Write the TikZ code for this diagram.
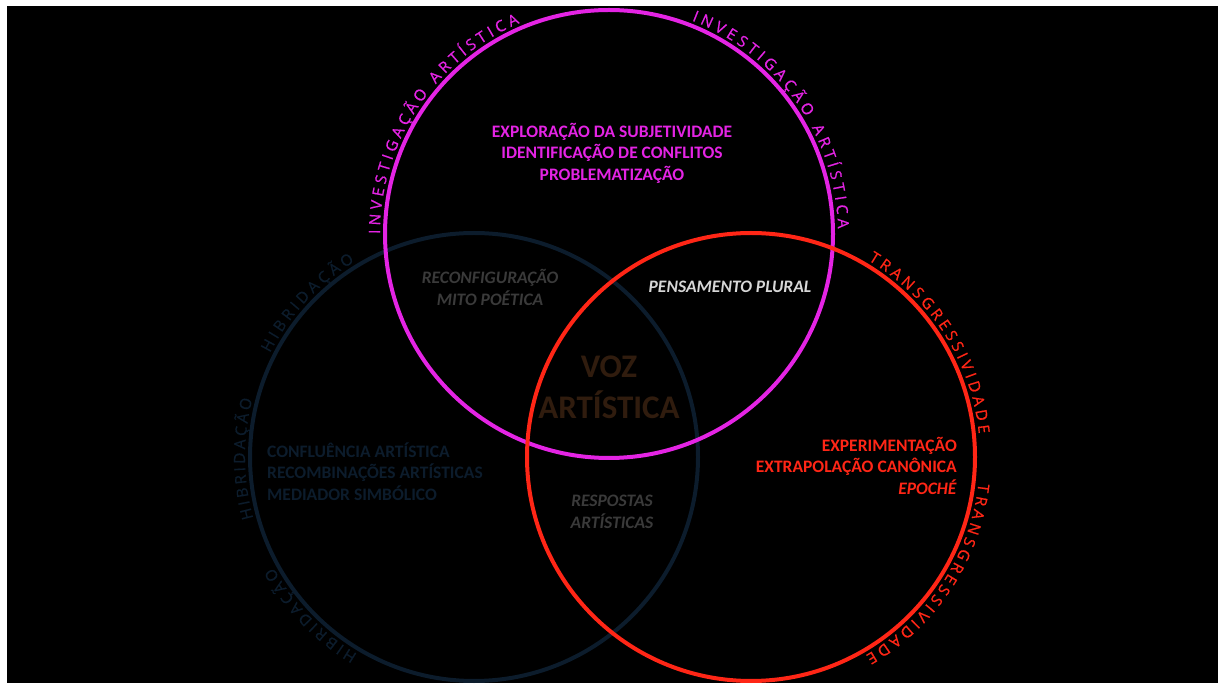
\documentclass[tikz,border=0pt]{standalone}
\usepackage{fontspec}
\setmainfont{Carlito}
\newfontfamily\arcfont[FakeBold=0.7]{Open Sans}
\usetikzlibrary{decorations.text}
\definecolor{mag}{RGB}{228,36,228}
\definecolor{rd}{RGB}{255,38,22}
\definecolor{nv}{RGB}{12,28,44}
\definecolor{gr}{RGB}{58,58,58}
\definecolor{lg}{RGB}{215,215,215}
\definecolor{br}{RGB}{48,28,14}
\newcommand{\bodyfont}{\fontsize{17.5}{21.5}\selectfont\bfseries}
\newcommand{\arcf}{\arcfont\fontsize{15.5}{15.5}\selectfont}
\tikzset{
  ring/.style={line width=4pt},
  arctext/.style={decorate, decoration={text along path, text align={fit to path}, text={#1}}},
  body/.style={font=\bodyfont, align=center, inner sep=0pt},
  ibody/.style={font=\bodyfont\itshape, align=center, inner sep=0pt},
}
\begin{document}
\begin{tikzpicture}[x=1pt,y=1pt]
\fill[white] (0,0) rectangle (1218,683);
\fill[black] (7,0) rectangle (1218,677);
\useasboundingbox (0,0) rectangle (1218,683);
\coordinate (mc) at (609,449);
\coordinate (rc) at (751,226);
\coordinate (bc) at (474,226);
% circles
\draw[ring, nv] (bc) circle[radius=224pt];
\draw[ring, mag] (mc) circle[radius=224pt];
\draw[ring, rd] (rc) circle[radius=224pt];
% curved labels
\path[arctext={|\arcf\color{mag}|INVESTIGAÇÃO ARTÍSTICA}, shift={(mc)}] (180:229) arc[start angle=180, end angle=113, radius=229pt];
\path[arctext={|\arcf\color{mag}|INVESTIGAÇÃO ARTÍSTICA}, shift={(mc)}] (68.8:229) arc[start angle=68.8, end angle=1.4, radius=229pt];
\path[arctext={|\arcf\color{rd}|TRANSGRESSIVIDADE}, shift={(rc)}] (59.2:229) arc[start angle=59.2, end angle=5.8, radius=229pt];
\path[arctext={|\arcf\color{rd}|TRANSGRESSIVIDADE}, shift={(rc)}] (-6.6:229) arc[start angle=-6.6, end angle=-60, radius=229pt];
\path[arctext={|\arcf\color{nv}|HIBRIDAÇÃO}, shift={(bc)}] (153:229) arc[start angle=153, end angle=121.4, radius=229pt];
\path[arctext={|\arcf\color{nv}|HIBRIDAÇÃO}, shift={(bc)}] (195.5:229) arc[start angle=195.5, end angle=165.4, radius=229pt];
\path[arctext={|\arcf\color{nv}|HIBRIDAÇÃO}, shift={(bc)}] (239.4:229) arc[start angle=239.4, end angle=208.8, radius=229pt];
% texts
\node[body, text=mag] (t1) at (612,530) {EXPLORAÇÃO DA SUBJETIVIDADE\\IDENTIFICAÇÃO DE CONFLITOS\\PROBLEMATIZAÇÃO};
\node[ibody, text=gr] (t2) at (490,395.5) {RECONFIGURAÇÃO\\MITO POÉTICA};
\node[ibody, text=lg] (t3) at (730,396) {PENSAMENTO PLURAL};
\node[body, text=br, font=\fontsize{33}{41}\selectfont\bfseries] (t4) at (609,296) {VOZ\\ARTÍSTICA};
\node[body, text=nv, align=left, anchor=west] (t5) at (267,211.5) {CONFLUÊNCIA ARTÍSTICA\\RECOMBINAÇÕES ARTÍSTICAS\\MEDIADOR SIMBÓLICO};
\node[ibody, text=gr] (t6) at (612,171) {RESPOSTAS\\ARTÍSTICAS};
\node[body, text=rd, align=right, anchor=east] (t7) at (957,217.5) {EXPERIMENTAÇÃO\\EXTRAPOLAÇÃO CANÔNICA\\\textit{EPOCHÉ}};
\end{tikzpicture}
\end{document}
